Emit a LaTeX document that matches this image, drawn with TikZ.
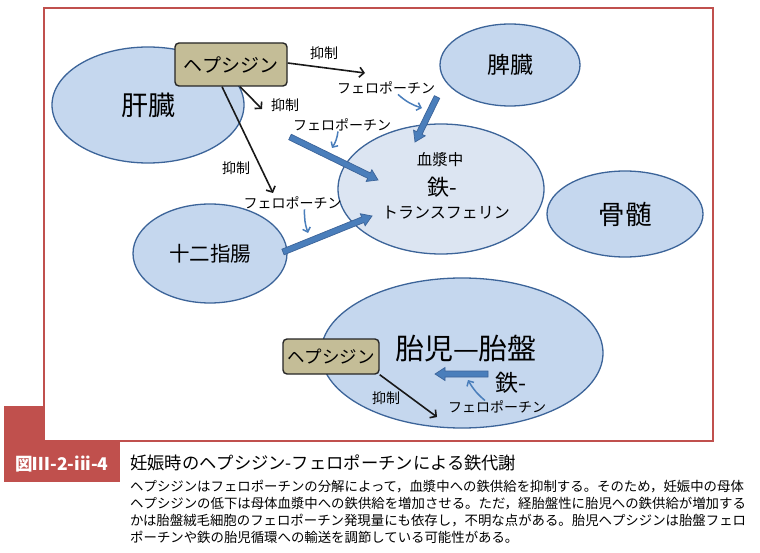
\documentclass[tikz,border=0pt]{standalone}
\usepackage{fontspec}
\setmainfont{Noto Sans CJK JP}
\usetikzlibrary{shapes.geometric,arrows.meta,calc}

\definecolor{organfill}{HTML}{C5D7EE}
\definecolor{plasmafill}{HTML}{DCE5F2}
\definecolor{organline}{HTML}{3C6499}
\definecolor{hepfill}{HTML}{C4BD97}
\definecolor{fatblue}{HTML}{4A7EBB}
\definecolor{framered}{HTML}{C0504D}
\newcommand\jpsize[1]{\fontsize{#1}{17}\selectfont}

\begin{document}
\begin{tikzpicture}[
        x=1pt, y=-1pt, % coordinates as in the picture
        organ/.style={ellipse, draw=organline, line width=1.3pt, fill=organfill, inner sep=0pt},
        hepbox/.style={rectangle, rounded corners=4pt, draw=black!85, line width=1.4pt, fill=hepfill, inner sep=0pt},
        inhib/.style={draw=black!90, line width=1.6pt, -{Straight Barb[length=4.5pt,width=10pt]}},
        fpn/.style={draw=fatblue, line width=1.5pt, -{Straight Barb[length=4pt,width=8pt]}},
        fatarrow/.style={fill=fatblue, draw=organline, line width=0.7pt, line join=miter},
        lbl/.style={inner sep=0pt, font=\jpsize{14}},
    ]
    \useasboundingbox (0,0) rectangle (760,553);

    % frame and tab
    \fill[framered] (4,406) rectangle (120,482);
    \draw[framered, line width=2pt, fill=white] (44,8) rectangle (713,441);
    \node[text=white, font=\jpsize{17.5}\bfseries, inner sep=0pt] (fig) at (62,464) {図Ⅲ-2-iii-4};
    \node[anchor=west, font=\jpsize{17.3}, inner sep=0pt] (title) at (130,463) {妊娠時のヘプシジン-フェロポーチンによる鉄代謝};
    \node[anchor=north west, align=left, font=\jpsize{13.4}, inner sep=0pt] (body) at (130,480) {%
        ヘプシジンはフェロポーチンの分解によって，血漿中への鉄供給を抑制する。そのため，妊娠中の母体\\
        ヘプシジンの低下は母体血漿中への鉄供給を増加させる。ただ，経胎盤性に胎児への鉄供給が増加する\\
        かは胎盤絨毛細胞のフェロポーチン発現量にも依存し，不明な点がある。胎児ヘプシジンは胎盤フェロ\\
        ポーチンや鉄の胎児循環への輸送を調節している可能性がある。};

    % organs
    \node[organ, minimum width=192, minimum height=116, font=\jpsize{27}] (liver) at (148,105) {肝臓};
    \node[organ, minimum width=140, minimum height=82, font=\jpsize{23}] (spleen) at (510,65) {脾臓};
    \node[organ, fill=plasmafill, minimum width=206, minimum height=130] (plasma) at (441,189) {};
    \node[organ, minimum width=156, minimum height=86, font=\jpsize{26.5}] (marrow) at (625,214) {骨髄};
    \node[organ, minimum width=154, minimum height=99, font=\jpsize{20.5}] (duo) at (210,253.5) {十二指腸};
    \node[organ, minimum width=282, minimum height=150] (fetal) at (462,353) {};

    \node[inner sep=0pt, font=\jpsize{15.5}] (plA) at (440,160) {血漿中};
    \node[inner sep=0pt, font=\jpsize{22}] (plB) at (442,187) {鉄-};
    \node[inner sep=0pt, font=\jpsize{16}] (plC) at (446,213) {トランスフェリン};
    \node[inner sep=0pt, font=\jpsize{29}] (fetA) at (466,349) {胎児—胎盤};
    \node[inner sep=0pt, font=\jpsize{23}] (fetB) at (511,383) {鉄-};

    % hepcidin
    \node[hepbox, minimum width=112, minimum height=43, font=\jpsize{19}] (hep1) at (231,64.5) {ヘプシジン};
    \node[hepbox, minimum width=96, minimum height=35, font=\jpsize{17.5}] (hep2) at (331,356.5) {ヘプシジン};

    % labels
    \node[lbl] (inhA) at (324,53) {抑制};
    \node[lbl] (inhB) at (285,105) {抑制};
    \node[lbl] (inhC) at (236,168) {抑制};
    \node[lbl] (inhD) at (386,398) {抑制};
    \node[lbl] (fpA) at (386,88) {フェロポーチン};
    \node[lbl] (fpB) at (342,125) {フェロポーチン};
    \node[lbl] (fpC) at (292.5,203) {フェロポーチン};
    \node[lbl] (fpD) at (497,407) {フェロポーチン};

    % end points
    \coordinate (tA) at (365,73);
    \coordinate (tB) at (262,109);
    \coordinate (tC) at (273,193);
    \coordinate (tD) at (437,417);
    \coordinate (sA) at (422,108);
    \coordinate (sB) at (332,148);
    \coordinate (sC) at (308,233);
    \coordinate (sD) at (468,380);
    \coordinate (lvout) at (290,137);
    \coordinate (plin1) at (378,180);
    \coordinate (duout) at (283,252);
    \coordinate (plin2) at (372,216);
    \coordinate (spout) at (437,97);
    \coordinate (plin3) at (415,142);
    \coordinate (fetsrc) at (488,374);
    \coordinate (fetdst) at (435,374);

    % inhibition
    \draw[inhib] ([yshift=1.5pt]hep1.east) -- (tA);
    \draw[inhib] ([xshift=9pt]hep1.south) -- (tB);
    \draw[inhib] ([xshift=-9pt]hep1.south) -- (tC);
    \draw[inhib] (hep2.south east) -- (tD);

    % ferroportin
    \draw[fpn] ([xshift=12pt]fpA.south) to[bend right=12] (sA);
    \draw[fpn] ([xshift=-4pt]fpB.south) to[bend left=12] (sB);
    \draw[fpn] ([xshift=12pt]fpC.south) to[bend right=10] (sC);
    \draw[fpn] ([xshift=-12pt]fpD.north) to[bend left=10] (sD);

    % iron flow
    \foreach \src/\dst in {lvout/plin1, duout/plin2, spout/plin3, fetsrc/fetdst} {
        \coordinate (neck) at ($(\dst)!10pt!(\src)$);
        \filldraw[fatarrow] ($(\src)!3pt!90:(\dst)$) -- ($(neck)!3pt!-90:(\src)$) -- ($(neck)!6.5pt!-90:(\src)$) -- (\dst)
            -- ($(neck)!6.5pt!90:(\src)$) -- ($(neck)!3pt!90:(\src)$) -- ($(\src)!3pt!-90:(\dst)$) -- cycle;
    }

\end{tikzpicture}
\end{document}
